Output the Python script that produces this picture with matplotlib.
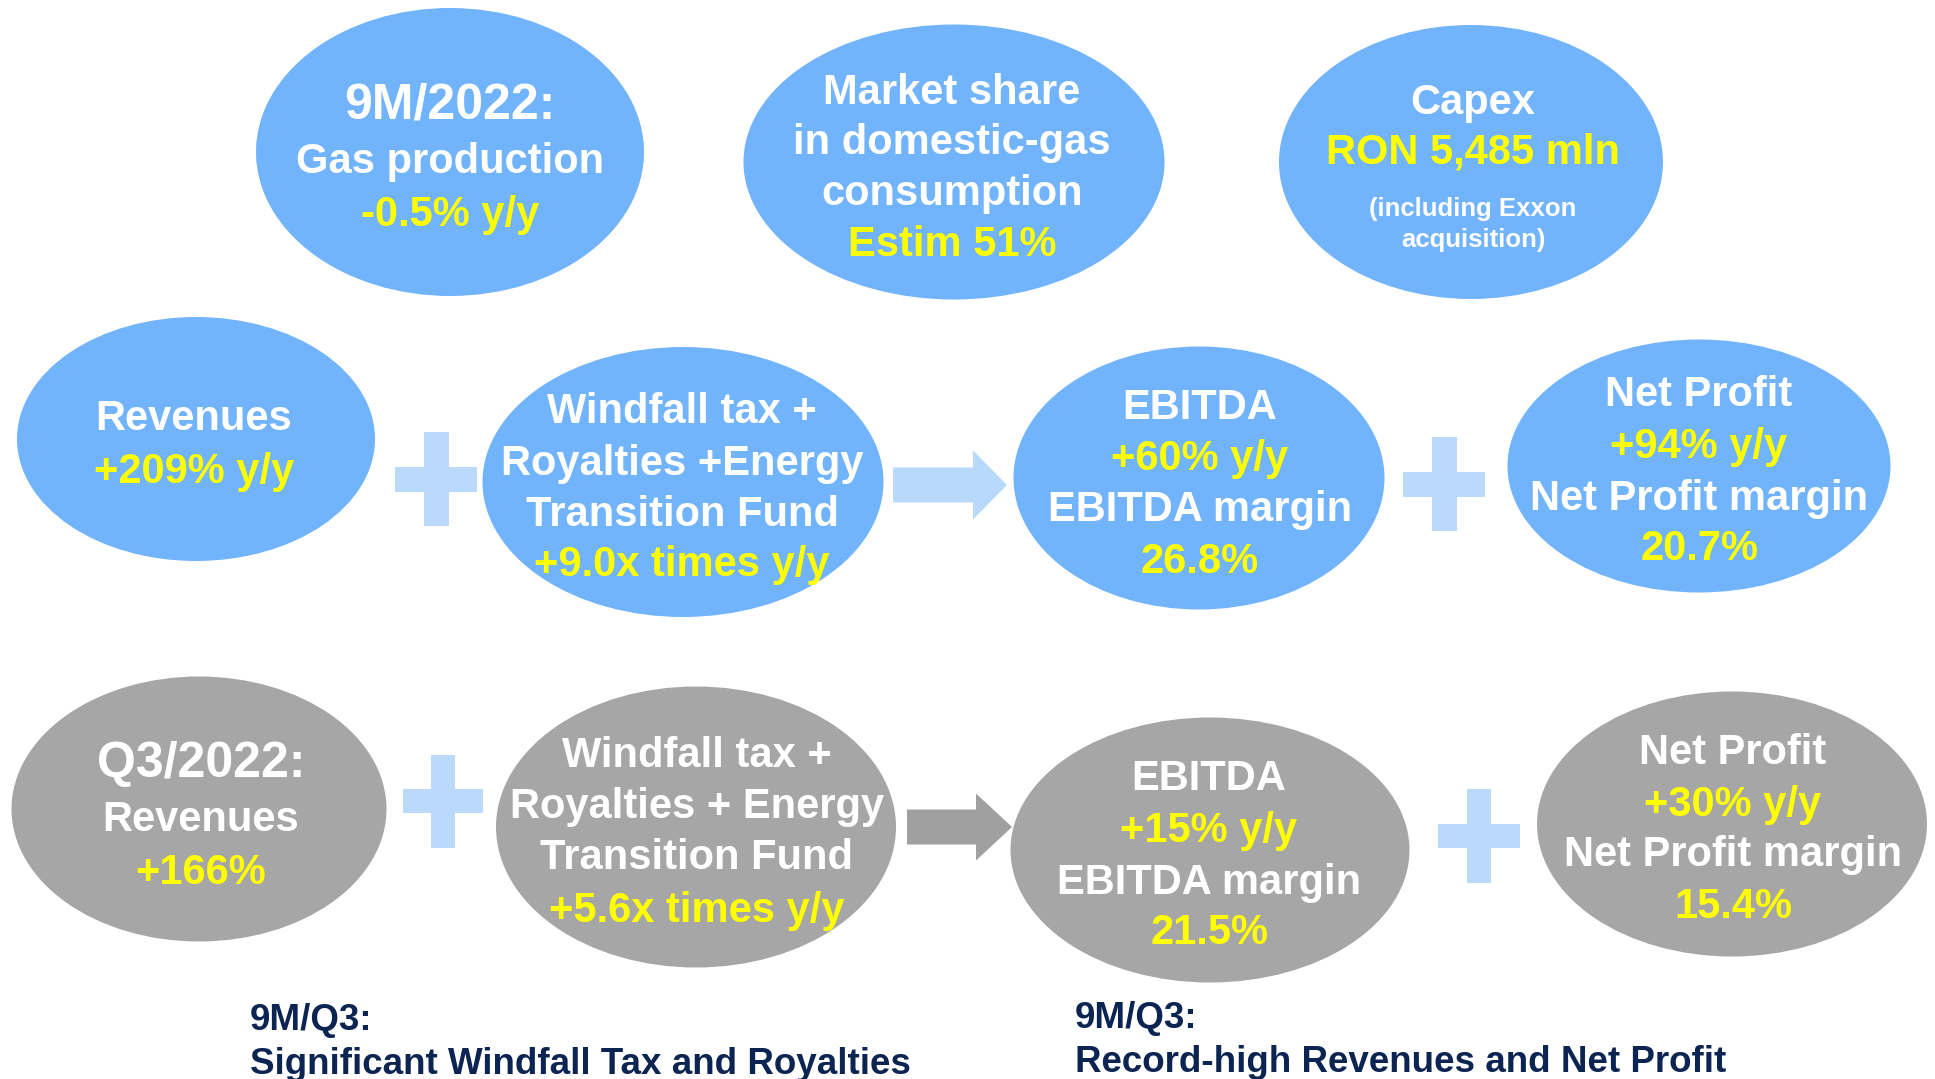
import matplotlib.pyplot as plt
from matplotlib.patches import Ellipse, Rectangle, Polygon

plt.rcParams['font.family'] = ['Liberation Sans', 'DejaVu Sans']

WHITE = 'white'
YEL = '#FFFF00'
BLUE = '#71B4FC'
GREY = '#A6A6A6'
PLUS = '#BBDAFB'
NAVY = '#0B2451'

# bubble texts: (line, colour, size)
gas_prod = [('9M/2022:', WHITE, 36), ('Gas production', WHITE, 30), ('-0.5% y/y', YEL, 30)]
market_share = [('Market share', WHITE, 30), ('in domestic-gas', WHITE, 30),
                ('consumption', WHITE, 30), ('Estim 51%', YEL, 30)]
capex = [('Capex', WHITE, 30), ('RON 5,485 mln', YEL, 30),
         ('(including Exxon', WHITE, 18.5), ('acquisition)', WHITE, 18.5)]
rev_9m = [('Revenues', WHITE, 30), ('+209% y/y', YEL, 30)]
tax_9m = [('Windfall tax +', WHITE, 30), ('Royalties +Energy', WHITE, 30),
          ('Transition Fund', WHITE, 30), ('+9.0x times y/y', YEL, 30)]
ebitda_9m = [('EBITDA', WHITE, 30), ('+60% y/y', YEL, 30),
             ('EBITDA margin', WHITE, 30), ('26.8%', YEL, 30)]
profit_9m = [('Net Profit', WHITE, 30), ('+94% y/y', YEL, 30),
             ('Net Profit margin', WHITE, 30), ('20.7%', YEL, 30)]
rev_q3 = [('Q3/2022:', WHITE, 36), ('Revenues', WHITE, 30), ('+166%', YEL, 30)]
tax_q3 = [('Windfall tax +', WHITE, 30), ('Royalties + Energy', WHITE, 30),
          ('Transition Fund', WHITE, 30), ('+5.6x times y/y', YEL, 30)]
ebitda_q3 = [('EBITDA', WHITE, 30), ('+15% y/y', YEL, 30),
             ('EBITDA margin', WHITE, 30), ('21.5%', YEL, 30)]
profit_q3 = [('Net Profit', WHITE, 30), ('+30% y/y', YEL, 30),
             ('Net Profit margin', WHITE, 30), ('15.4%', YEL, 30)]

footer_left = ['9M/Q3:', 'Significant Windfall Tax and Royalties']
footer_right = ['9M/Q3:', 'Record-high Revenues and Net Profit']

# layout in pixels: ellipse (cx, cy, w, h), text x, text line y's, fill
bubbles = [
    (gas_prod, (450, 152, 388, 288), 450, [102, 158, 211], BLUE),
    (market_share, (954, 162, 421, 275), 952, [89, 139, 190, 241], BLUE),
    (capex, (1471, 162, 384, 274), 1473, [99, 149, 205, 236], BLUE),
    (rev_9m, (196, 439, 358, 244), 194, [415, 468], BLUE),
    (tax_9m, (683, 482, 401, 270), 682, [408, 460, 511, 561], BLUE),
    (ebitda_9m, (1199, 478, 371, 263), 1200, [404, 455, 506, 558], BLUE),
    (profit_9m, (1699, 466, 383, 253), 1699, [391, 443, 495, 545], BLUE),
    (rev_q3, (199, 809, 375, 265), 201, [760, 816, 869], GREY),
    (tax_q3, (696, 827, 400, 281), 697, [752, 803, 854, 907], GREY),
    (ebitda_q3, (1210, 850, 399, 265), 1209, [775, 827, 879, 929], GREY),
    (profit_q3, (1732, 824, 390, 265), 1733, [749, 801, 851, 903], GREY),
]
dy = 4  # nudge text down to match the reference baselines

fig = plt.figure(figsize=(19.35, 10.79), dpi=100)
ax = fig.add_axes([0, 0, 1, 1])
ax.set_xlim(0, 1935)
ax.set_ylim(1079, 0)
ax.axis('off')


def plus(cx, cy, w, h, t):
    ax.add_patch(Rectangle((cx - w / 2, cy - t / 2), w, t, color=PLUS, lw=0))
    ax.add_patch(Rectangle((cx - t / 2, cy - h / 2), t, h, color=PLUS, lw=0))


def arrow(x0, x1, xh, cy, shaft, head, col):
    pts = [(x0, cy - shaft / 2), (xh, cy - shaft / 2), (xh, cy - head / 2), (x1, cy),
           (xh, cy + head / 2), (xh, cy + shaft / 2), (x0, cy + shaft / 2)]
    ax.add_patch(Polygon(pts, closed=True, color=col, lw=0))


plus(436, 479, 82, 94, 25)
plus(1444, 484, 82, 94, 25)
plus(443, 801, 80, 93, 24)
plus(1479, 836, 82, 94, 24)
arrow(893, 1007, 973, 485, 35, 69, '#B9D9FB')
arrow(907, 1012, 976, 827, 35, 67, '#A0A0A0')

for lines, (cx, cy, w, h), tx, ys, fill in bubbles:
    ax.add_patch(Ellipse((cx, cy), w, h, color=fill, lw=0))
    for (s, col, size), y in zip(lines, ys):
        ax.text(tx, y + dy, s, color=col, fontsize=size, fontweight='bold',
                ha='center', va='center')

for s, y in zip(footer_left, [1016, 1060]):
    ax.text(250, y + dy, s, color=NAVY, fontsize=26.5, fontweight='bold', ha='left', va='center')
for s, y in zip(footer_right, [1014, 1058]):
    ax.text(1075, y + dy, s, color=NAVY, fontsize=26.5, fontweight='bold', ha='left', va='center')

fig.savefig('out.png', dpi=100)
